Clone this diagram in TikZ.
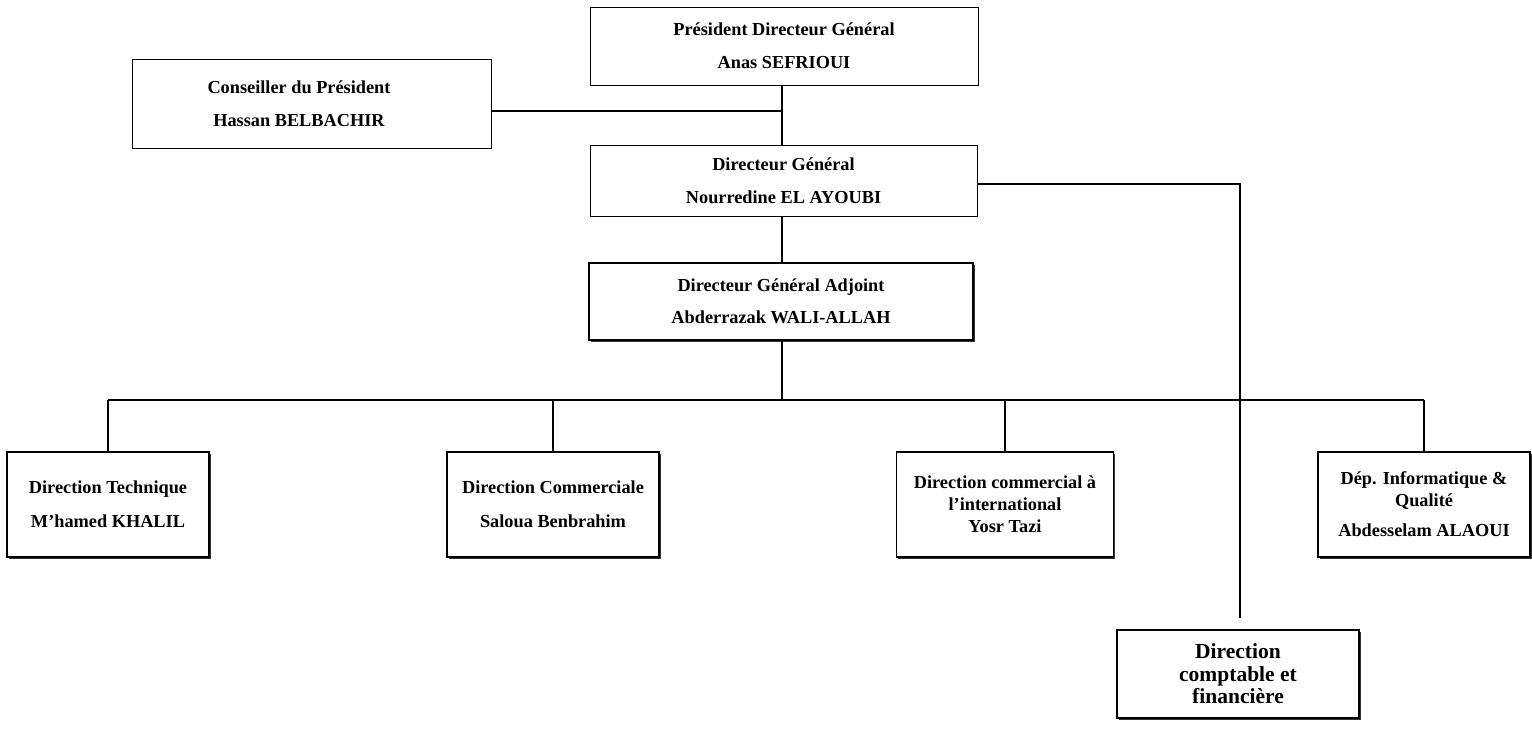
\documentclass[tikz,border=0pt]{standalone}
\usepackage{fontspec}
\setmainfont{Liberation Serif}
\usetikzlibrary{calc,shadows}
\begin{document}
\begin{tikzpicture}[x=1pt,y=-1pt,
  thinbox/.style={draw,line width=0.9pt,fill=white,inner sep=0pt,align=center,
    font=\bfseries\fontsize{18.3}{22}\selectfont},
  thickbox/.style={thinbox,line width=1.6pt,
    drop shadow={shadow xshift=1.6pt,shadow yshift=-1.6pt,fill=black,opacity=0.8}},
  bigtxt/.style={font=\bfseries\fontsize{21.5}{22.5}\selectfont},
  link/.style={line width=1.5pt}]
\useasboundingbox (0,0) rectangle (1532,729);
% boxes
\node[thinbox,minimum width=388pt,minimum height=78pt] (pdg) at (784,46)
  {Président Directeur Général\\[11pt]Anas SEFRIOUI};
\node[thinbox,minimum width=359pt,minimum height=89pt] (cons) at (311.5,103.5)
  {\hspace*{-25pt}Conseiller du Président\\[11pt]\hspace*{-25pt}Hassan BELBACHIR};
\node[thinbox,minimum width=387pt,minimum height=71pt] (dg) at (783.5,180.5)
  {Directeur Général\\[11pt]Nourredine EL AYOUBI};
\node[thickbox,minimum width=384pt,minimum height=77pt] (dga) at (781,301.5)
  {Directeur Général Adjoint\\[10pt]Abderrazak WALI-ALLAH};
\node[thickbox,minimum width=202pt,minimum height=105pt] (dt) at (108,504.5)
  {Direction Technique\\[12pt]M’hamed KHALIL};
\node[thickbox,minimum width=212pt,minimum height=105pt] (dc) at (553,504.5)
  {Direction Commerciale\\[12pt]Saloua Benbrahim};
\node[thickbox,minimum width=217pt,minimum height=105pt] (di) at (1005,504.5)
  {Direction commercial à\\l’international\\Yosr Tazi};
\node[thickbox,minimum width=212pt,minimum height=105pt] (dinf) at (1424,504.5)
  {Dép. Informatique \&\\Qualité\\[8pt]Abdesselam ALAOUI};
\node[thickbox,bigtxt,minimum width=242pt,minimum height=88pt] (dcf) at (1238,674)
  {Direction\\comptable et\\financière};
% connectors
\coordinate (spine) at (782,0);
\coordinate (bus) at (0,400);
\coordinate (side) at (1240,0);
\draw[link] (pdg.south -| spine) -- (dg.north -| spine);
\draw[link] ($(cons.east)+(0,7.5)$) -- ($(cons.east -| spine)+(0,7.5)$);
\draw[link] (dg.south -| spine) -- (dga.north -| spine);
\draw[link] (dga.south -| spine) -- (bus -| spine);
\draw[link] (bus -| dt) -- (bus -| dinf);
\draw[link] (bus -| dt) -- (dt.north);
\draw[link] (bus -| dc) -- (dc.north);
\draw[link] (bus -| di) -- (di.north);
\draw[link] (bus -| dinf) -- (dinf.north);
\coordinate (dcfend) at ($(dcf.north -| side)+(0,-11)$);
\draw[link] ($(dg.east)+(0,3.5)$) -- ($(dg.east -| side)+(0,3.5)$) -- (dcfend);
\end{tikzpicture}
\end{document}
